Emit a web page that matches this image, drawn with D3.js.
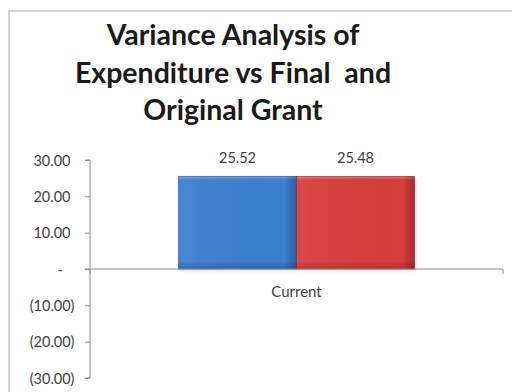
<!DOCTYPE html>
<html>
<head>
<meta charset="utf-8">
<script src="https://cdn.jsdelivr.net/npm/d3@7"></script>
<style>
  html, body { margin: 0; padding: 0; background: #fff; }
  svg { display: block; }
</style>
</head>
<body>
<svg id="chart" width="512" height="392"></svg>
<script>
// Chart data
const titleLines = ["Variance Analysis of", "Expenditure vs Final  and", "Original Grant"];
const categories = ["Current"];
const seriesKeys = ["final", "original"];
const seriesValues = [25.52, 25.48];
const yTicks = [30, 20, 10, 0, -10, -20, -30];
const yDomain = [-30, 30];

const svg = d3.select("#chart");
const labelFont = "Lato, 'Open Sans', sans-serif";
const textGray = "#404040";
const axisGray = "#8c8c8c";

// Chart area frame
svg.append("rect")
  .attr("x", 9).attr("y", 11)
  .attr("width", 560).attr("height", 440)
  .attr("fill", "#fff")
  .attr("stroke", "#c4c4c4").attr("stroke-width", 1.5);

// Title
const title = svg.append("text")
  .attr("text-anchor", "middle")
  .attr("font-family", labelFont)
  .attr("font-weight", "bold")
  .attr("font-size", 28.5)
  .attr("fill", "#1a1a1a");
titleLines.forEach((t, i) => {
  title.append("tspan")
    .attr("x", 233)
    .attr("y", 45 + i * 37.5)
    .attr("xml:space", "preserve")
    .style("white-space", "pre")
    .text(t);
});

// Scales
const plotLeft = 90, plotRight = 503;
const y = d3.scaleLinear().domain(yDomain).range([378, 160]);
const x0 = d3.scaleBand().domain(categories).range([plotLeft, plotRight]).paddingInner(0).paddingOuter(0);
const x1 = d3.scaleBand().domain(seriesKeys).range([0, x0.bandwidth()]).paddingInner(0).paddingOuter(0.75);

// Bar gradients
const defs = svg.append("defs");
const fills = {
  final:    { top: "#6aa6e8", main: "#3b7fd0", bottom: "#2c62ab", edge: "#244f8c" },
  original: { top: "#f27070", main: "#d83c3c", bottom: "#b52e2e", edge: "#8a2222" }
};
seriesKeys.forEach(k => {
  const g = defs.append("linearGradient").attr("id", "grad-" + k)
    .attr("x1", 0).attr("y1", 0).attr("x2", 0).attr("y2", 1);
  g.append("stop").attr("offset", "0%").attr("stop-color", fills[k].top);
  g.append("stop").attr("offset", "4%").attr("stop-color", fills[k].main);
  g.append("stop").attr("offset", "92%").attr("stop-color", fills[k].main);
  g.append("stop").attr("offset", "100%").attr("stop-color", fills[k].bottom);
  const h = defs.append("linearGradient").attr("id", "shade-" + k)
    .attr("x1", 0).attr("y1", 0).attr("x2", 1).attr("y2", 0);
  h.append("stop").attr("offset", "0%").attr("stop-color", "#fff").attr("stop-opacity", 0.06);
  h.append("stop").attr("offset", "90%").attr("stop-color", "#000").attr("stop-opacity", 0.0);
  h.append("stop").attr("offset", "100%").attr("stop-color", "#000").attr("stop-opacity", 0.25);
});
const blur = defs.append("filter").attr("id", "shadow").attr("x", "-10%").attr("y", "-10%").attr("width", "130%").attr("height", "130%");
blur.append("feGaussianBlur").attr("stdDeviation", 1.5);

// Y axis
const yAxis = d3.axisLeft(y)
  .tickValues(yTicks)
  .tickSize(5)
  .tickPadding(0)
  .tickFormat(v => v === 0 ? "-" : v < 0 ? "(" + d3.format(".2f")(-v) + ")" : d3.format(".2f")(v));
const yg = svg.append("g").attr("transform", `translate(${plotLeft},0)`).call(yAxis);
yg.select(".domain").attr("stroke", axisGray).attr("d", `M-5,${y(30)}H0V${y(-30)}H-5`);
yg.selectAll(".tick line").attr("stroke", axisGray);
yg.selectAll(".tick text")
  .attr("font-family", labelFont)
  .attr("font-size", 14.5)
  .attr("fill", textGray)
  .attr("x", d => d === 0 ? -27 : d > 0 ? -19.5 : -15.5)
  .attr("dy", "0.35em");

// Bars
const groups = svg.append("g").selectAll("g")
  .data(categories)
  .join("g")
  .attr("transform", c => `translate(${x0(c)},0)`);

const barData = seriesKeys.map((k, i) => ({ key: k, value: seriesValues[i] }));

groups.selectAll("rect.shadow")
  .data(barData)
  .join("rect")
  .attr("class", "shadow")
  .attr("x", d => x1(d.key) + 1.5)
  .attr("y", d => y(Math.max(0, d.value)) + 1.5)
  .attr("width", x1.bandwidth())
  .attr("height", d => Math.abs(y(d.value) - y(0)))
  .attr("fill", "#000")
  .attr("opacity", 0.18)
  .attr("filter", "url(#shadow)");

groups.selectAll("rect.bar")
  .data(barData)
  .join("rect")
  .attr("class", "bar")
  .attr("x", d => x1(d.key))
  .attr("y", d => y(Math.max(0, d.value)))
  .attr("width", x1.bandwidth())
  .attr("height", d => Math.abs(y(d.value) - y(0)))
  .attr("fill", d => `url(#grad-${d.key})`)
  .attr("stroke", d => fills[d.key].edge)
  .attr("stroke-width", 0.6);

groups.selectAll("rect.shade")
  .data(barData)
  .join("rect")
  .attr("class", "shade")
  .attr("x", d => x1(d.key))
  .attr("y", d => y(Math.max(0, d.value)))
  .attr("width", x1.bandwidth())
  .attr("height", d => Math.abs(y(d.value) - y(0)))
  .attr("fill", d => `url(#shade-${d.key})`);

// Data labels
groups.selectAll("text.value")
  .data(barData)
  .join("text")
  .attr("class", "value")
  .attr("x", d => x1(d.key) + x1.bandwidth() / 2)
  .attr("y", d => y(d.value) - 13)
  .attr("text-anchor", "middle")
  .attr("font-family", labelFont)
  .attr("font-size", 14.5)
  .attr("fill", textGray)
  .text(d => d3.format(".2f")(d.value));

// Category axis along zero
const xAxis = d3.axisBottom(x0).tickSize(0).tickPadding(17);
const xg = svg.append("g").attr("transform", `translate(0,${y(0)})`).call(xAxis);
xg.select(".domain").attr("stroke", axisGray).attr("d", `M${plotLeft - 5},0H${plotRight}V5`);
xg.selectAll(".tick text")
  .attr("font-family", labelFont)
  .attr("font-size", 15)
  .attr("fill", textGray);
xg.append("line")
  .attr("x1", plotLeft).attr("x2", plotLeft)
  .attr("y1", 0).attr("y2", 5)
  .attr("stroke", axisGray);
</script>
</body>
</html>
